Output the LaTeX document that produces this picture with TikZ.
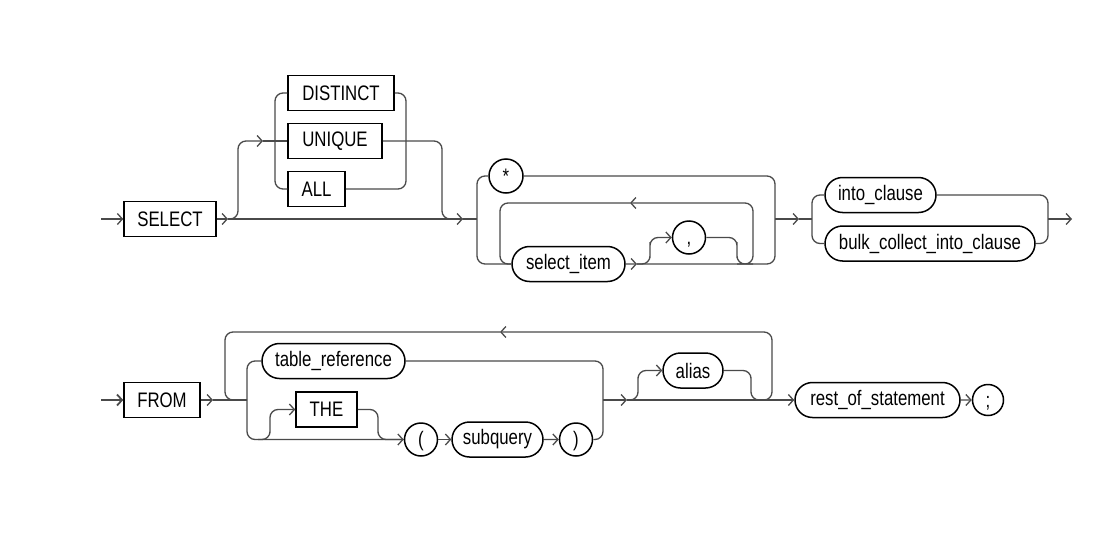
\documentclass[tikz,border=0pt]{standalone}
\usepackage{fontspec}
\setmainfont{Liberation Sans}[FakeStretch=0.8]
\usetikzlibrary{arrows.meta,shapes.misc}
\definecolor{RailGray}{HTML}{4A4A4A}
\newcommand{\railfont}{\fontsize{21}{25}\selectfont}
\tikzset{kw/.style={draw=black,line width=1.5pt,rectangle,minimum height=35pt,inner sep=0pt,font=\railfont},
  nt/.style={draw=black,line width=1.5pt,rounded rectangle,minimum height=35pt,inner sep=0pt,font=\railfont},
  sym/.style={draw=black,line width=1.5pt,circle,minimum size=33pt,inner sep=0pt,text height=16pt,text depth=2pt,font=\railfont},
  rail/.style={draw=RailGray,line width=1.3pt,rounded corners=8pt},
  arr/.style={-{Straight Barb[length=5pt,width=11pt]}}}

\begin{document}
\begin{tikzpicture}[x=1pt,y=-1pt]
\useasboundingbox (0,0) rectangle (1114,541);

% SELECT
\coordinate (in1) at (101,219);
\node[kw,minimum width=92pt] (select) at (170,219) {SELECT};
\draw[rail,arr] (in1) -- (select);
\coordinate (s1) at (228,219);
\draw[rail,arr] (select) -- (s1);

% DISTINCT / UNIQUE / ALL
\node[kw,minimum width=106pt] (distinct) at (341,93) {DISTINCT};
\node[kw,minimum width=94pt] (unique) at (335,141) {UNIQUE};
\node[kw,minimum width=57pt] (all) at (316.5,189) {ALL};
\coordinate (s2) at (263,141);
\coordinate (cl) at (275,141);
\coordinate (cr) at (406,141);
\coordinate (s3) at (463,219);
\draw[rail,arr] (s1) -| (238,180) |- (s2);
\draw[rail] (s2) -- (unique);
\draw[rail] (distinct.west) -| (cl) |- (all.west);
\draw[rail] (distinct.east) -| (cr) |- (all.east);
\draw[rail] (unique.east) -| (442,180) |- (s3);
\draw[rail,arr] (s1) -- (s3);

% * or select_item list
\node[sym,minimum size=34pt] (star) at (506,176) {*};
\node[nt,minimum width=113pt] (item) at (568.5,264) {select\_item};
\node[sym] (comma) at (689,237.5) {,};
\coordinate (gl) at (477,219);
\coordinate (gr) at (775,219);
\coordinate (k1) at (637,264);
\coordinate (lp1) at (630,203);
\draw[rail] (s3) -- (gl);
\draw[rail] (star.west) -| (gl) |- (item.west);
\draw[rail,arr] (item) -- (k1);
\draw[rail,arr] (k1) -| (650,250) |- (comma.west);
\draw[rail] (star.east) -| (gr) |- (k1);
\draw[rail,arr] (comma.east) -| (737,250) |- (745,264) -| (753,230) |- (lp1);
\draw[rail] (lp1) -| (500,240) |- (item.west);

% into clauses
\coordinate (s4) at (799,219);
\draw[rail,arr] (gr) -- (s4);
\node[nt,minimum width=111pt] (into) at (880.5,195) {into\_clause};
\node[nt,minimum width=210pt] (bulk) at (930,243.5) {bulk\_collect\_into\_clause};
\coordinate (il) at (812,219);
\coordinate (ir) at (1048,219);
\coordinate (out1) at (1072,219);
\draw[rail] (s4) -- (il);
\draw[rail] (into.west) -| (il) |- (bulk.west);
\draw[rail] (into.east) -| (ir) |- (bulk.east);
\draw[rail,arr] (ir) -- (out1);

% FROM
\coordinate (in2) at (101,400);
\node[kw,minimum width=76pt] (from) at (162,400) {FROM};
\draw[rail,arr,line width=1.8pt] (in2) -- (from);
\coordinate (f1) at (213,400);
\coordinate (tl) at (247,400);
\draw[rail,arr] (from) -- (f1);
\draw[rail] (f1) -- (tl);

% table_reference or THE ( subquery )
\node[nt,minimum width=143pt] (tabref) at (333.5,361) {table\_reference};
\node[kw,minimum width=61pt] (the) at (326.5,409.5) {THE};
\node[sym] (lpar) at (421,439.5) {(};
\node[nt,minimum width=91pt] (sub) at (497.5,439.5) {subquery};
\node[sym] (rpar) at (576,439.5) {)};
\coordinate (tb) at (258,439.5);
\coordinate (tr) at (603,400);
\draw[rail,arr] (tabref.west) -| (tl) |- (lpar.west);
\draw[rail,arr] (tb) -| (270,425) |- (the.west);
\draw[rail] (the.east) -| (378,425) |- (lpar.west);
\draw[rail,arr] (lpar) -- (sub);
\draw[rail,arr] (sub) -- (rpar);
\draw[rail] (tabref.east) -| (tr) |- (rpar.east);

% alias and loop back
\coordinate (t1) at (627,400);
\coordinate (lp2) at (500,332);
\node[nt,minimum width=60pt] (alias) at (693,370.5) {alias};
\draw[rail,arr] (tr) -- (t1);
\draw[rail,arr] (t1) -| (638,385) |- (alias.west);
\draw[rail,arr] (alias.east) -| (751,385) |- (761,400) -| (772,370) |- (lp2);
\draw[rail] (lp2) -| (225,370) |- (tl);

% rest
\node[nt,minimum width=165pt] (rest) at (877.5,400) {rest\_of\_statement};
\node[sym,minimum size=31pt] (semi) at (988,400) {;};
\draw[rail,arr] (t1) -- (rest);
\draw[rail,arr] (rest) -- (semi);
\end{tikzpicture}
\end{document}
